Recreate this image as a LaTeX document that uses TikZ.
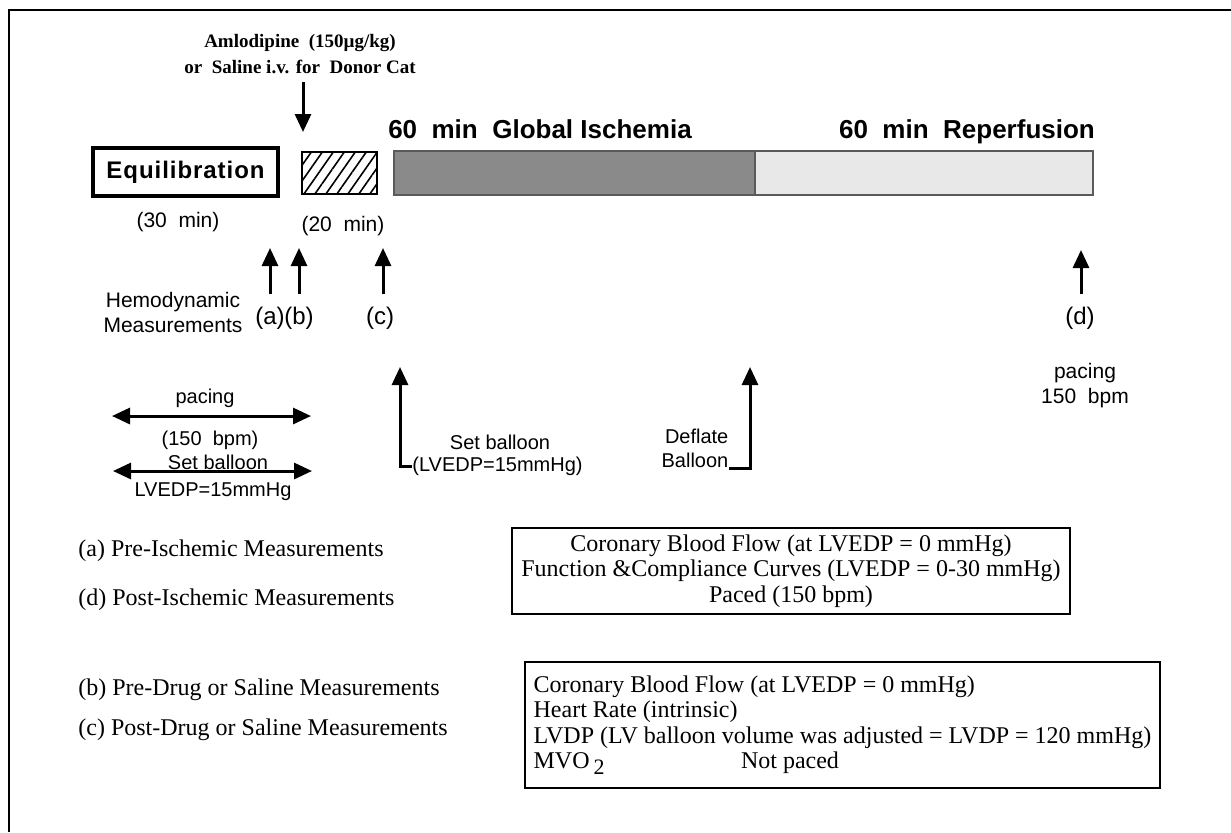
\documentclass[tikz,border=0pt]{standalone}
\usepackage{fontspec}
\setmainfont{Liberation Serif}
\setsansfont{Liberation Sans}
\usetikzlibrary{arrows.meta,patterns.meta}
\definecolor{darkbar}{RGB}{138,138,138}
\definecolor{lightbar}{RGB}{232,232,232}
\definecolor{barline}{RGB}{90,90,90}
\begin{document}
\begin{tikzpicture}[x=0.5pt,y=-0.5pt,
  tip/.style={-{Triangle[length=9pt,width=8pt]}},
  arr/.style={line width=1.5pt,tip},
  darr/.style={line width=1.5pt,{Triangle[length=9pt,width=8pt]}-{Triangle[length=9pt,width=8pt]}},
  lab/.style={font=\sffamily\fontsize{10}{12}\selectfont, inner sep=0pt, align=center},
  letter/.style={font=\sffamily\fontsize{12}{14}\selectfont, inner sep=0pt},
  ser/.style={font=\rmfamily\fontsize{12}{12.5}\selectfont, inner sep=0pt, anchor=west},
  phase/.style={font=\sffamily\bfseries\fontsize{13}{15}\selectfont, inner sep=0pt, anchor=base},
  infobox/.style={draw, line width=1.3pt, font=\rmfamily\fontsize{12}{12.75}\selectfont},
]
\useasboundingbox (0,0) rectangle (1231,832);
% outer frame
\draw[line width=1.2pt] (9,832) -- (9,10) -- (1231,10);

% drug label and arrow
\node[align=center, inner sep=0pt, font=\rmfamily\bfseries\fontsize{9.5}{13}\selectfont] (amlo) at (300,54)
  {Amlodipine\ \ (150µg/kg)\\or\ \ Saline i.v. for\ \ Donor Cat};
\coordinate (drugtip) at (303,132);
\draw[arr] (drugtip |- amlo.south) ++(0,8) -- (drugtip);

% phase boxes
\node[draw, line width=1.6pt, minimum width=92.5pt, minimum height=24pt, inner sep=0pt,
  font=\sffamily\bfseries\fontsize{12}{14}\selectfont] (equil) at (185.5,172)
  {\addfontfeatures{LetterSpace=4}Equilibration};
\node[draw, line width=1.2pt, minimum width=37.5pt, minimum height=21pt, inner sep=0pt,
  pattern={Lines[angle=55,distance=4.5pt,line width=0.8pt]}] (drug) at (339.5,173) {};
\node[draw=barline, fill=darkbar, line width=1pt, minimum width=181pt, minimum height=22pt, inner sep=0pt] (isch) at (574.5,173) {};
\node[draw=barline, fill=lightbar, line width=1pt, minimum width=169pt, minimum height=22pt, inner sep=0pt] (reperf) at (924,173) {};
\node[phase] (ischlab) at (540,138) {60\ \ min\ \ Global\ Ischemia};
\node[phase] (reperflab) at (967,138) {60\ \ min\ \ Reperfusion};
\node[font=\sffamily\fontsize{10.5}{12}\selectfont, inner sep=0pt] (t30) at (178,222) {(30\ \ min)};
\node[font=\sffamily\fontsize{10.5}{12}\selectfont, inner sep=0pt] (t20) at (343,226) {(20\ \ min)};

% hemodynamic measurement arrows
\node[lab, font=\sffamily\fontsize{10.5}{12.5}\selectfont] (hemo) at (173,312) {Hemodynamic\\Measurements};
\node[letter] (la) at (270,318) {(a)};
\node[letter] (lb) at (299,318) {(b)};
\node[letter] (lc) at (380,318) {(c)};
\node[letter] (ld) at (1080,318) {(d)};
\coordinate (ta) at (270,248);
\coordinate (tb) at (299,248);
\coordinate (tc) at (383,248);
\coordinate (td) at (1081,250);
\draw[arr] (ta |- la.north) ++(0,-12) -- (ta);
\draw[arr] (tb |- lb.north) ++(0,-12) -- (tb);
\draw[arr] (tc |- lc.north) ++(0,-12) -- (tc);
\draw[arr] (td |- ld.north) ++(0,-12) -- (td);
\node[lab, font=\sffamily\fontsize{10.5}{12.5}\selectfont] (dpace) at (1085,386) {pacing\\150\ \ bpm};

% left double arrows
\node[lab] (pac) at (205,398) {pacing};
\coordinate (p1) at (112,416);
\coordinate (p2) at (311,416);
\draw[darr] (p1) -- (p2);
\node[lab] (pac150) at (210,440) {(150\ \ bpm)};
\node[lab] (setb) at (218,462) {Set balloon};
\coordinate (s1) at (113,471);
\coordinate (s2) at (312,471);
\draw[darr] (s1) -- (s2);
\node[lab] (lvedp) at (213,492) {LVEDP=15mmHg};

% set balloon / deflate arrows
\node[lab] (setb2) at (500,442) {Set balloon};
\node[lab, anchor=west] (lvedp2) at (412,466) {(LVEDP=15mmHg)};
\coordinate (sbt) at (400,367);
\draw[arr] (lvedp2.west) -- (sbt |- lvedp2.west) -- (sbt);
\node[lab, align=right] (defl) at (695,448) {Deflate\\Balloon};
\coordinate (dft) at (750,367);
\coordinate (dfb) at (750,468);
\draw[arr] (dfb -| defl.east) -- (dfb) -- (dft);

% legend text
\node[ser] (pa) at (78,551) {(a) Pre-Ischemic Measurements};
\node[ser] (pd) at (78,600) {(d) Post-Ischemic Measurements};
\node[ser] (pb) at (78,690) {(b) Pre-Drug or Saline Measurements};
\node[ser] (pc) at (78,730) {(c) Post-Drug or Saline Measurements};

% info boxes
\node[infobox, minimum width=279pt, minimum height=43pt, align=center, inner sep=2pt] (box1) at (791,571)
  {Coronary Blood Flow (at LVEDP = 0 mmHg)\\Function \&Compliance Curves (LVEDP = 0-30 mmHg)\\Paced (150 bpm)};
\node[infobox, minimum width=317.5pt, minimum height=63pt, align=left, inner sep=3pt] (box2) at (842.5,725)
  {Coronary Blood Flow (at LVEDP = 0 mmHg)\\Heart Rate (intrinsic)\\LVDP (LV balloon volume was adjusted = LVDP = 120 mmHg)\\MVO\,\raisebox{-3pt}{\fontsize{11}{11}\selectfont 2}};
\node[font=\rmfamily\fontsize{12}{12.5}\selectfont, inner sep=0pt, anchor=base] (np) at (790,768) {Not paced};
\end{tikzpicture}
\end{document}
